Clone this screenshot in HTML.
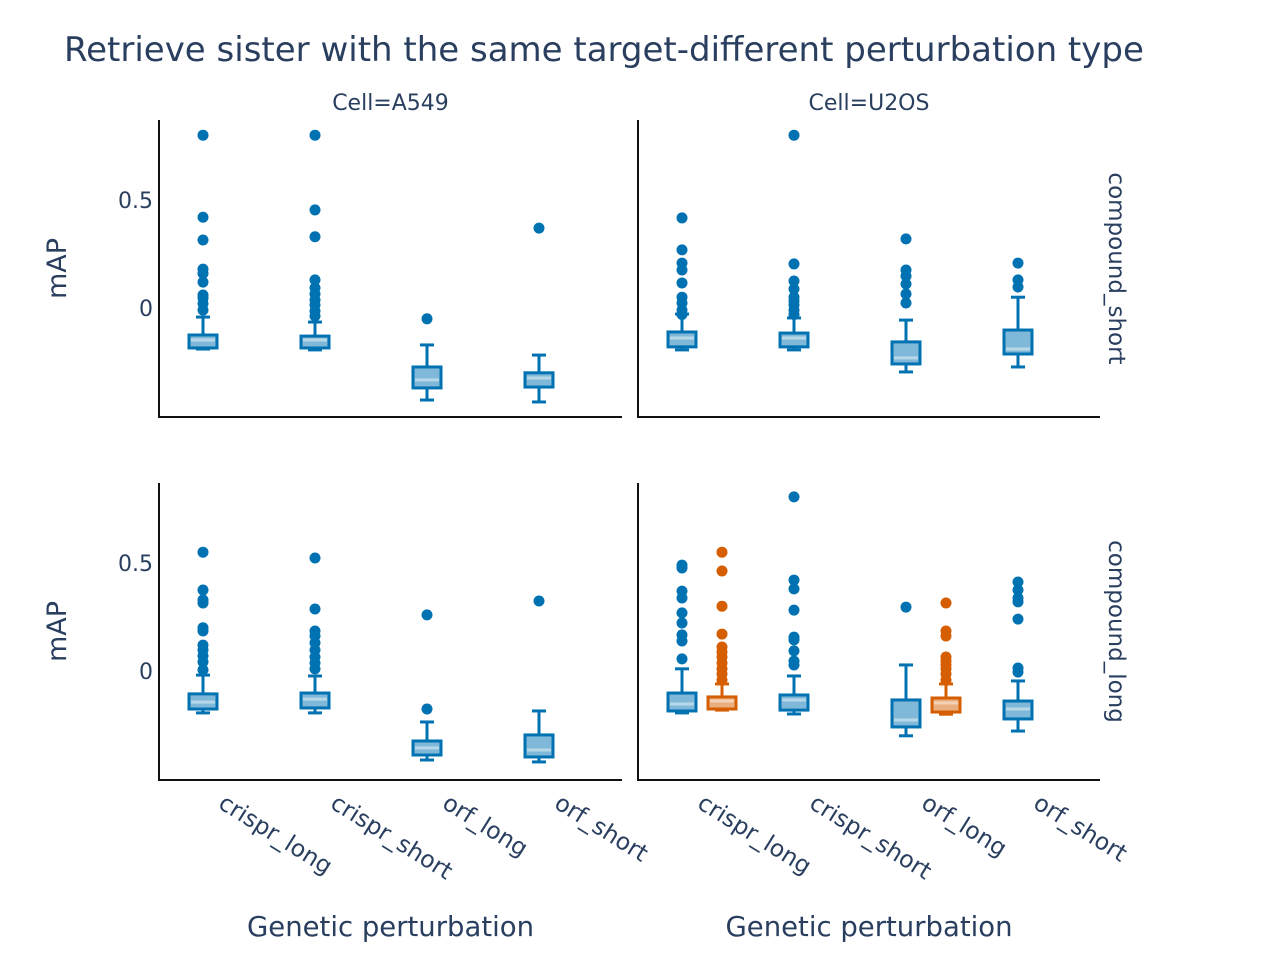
<!DOCTYPE html>
<html><head><meta charset="utf-8"><style>
body{margin:0;background:#fff;font-family:"DejaVu Sans",sans-serif}
svg text{font-family:"DejaVu Sans",sans-serif;fill:#2a3f5f}
</style></head><body>
<svg id="c" width="1280" height="960">
<text x="64" y="61" font-size="34">Retrieve sister with the same target-different perturbation type</text>
</svg>
<script>
const categories=["crispr_long","crispr_short","orf_long","orf_short"];
// each: [q1, median, q3, lower, upper]
const tlStats=[[-0.185,-0.148,-0.125,-0.19,-0.042],[-0.185,-0.148,-0.13,-0.194,-0.065],[-0.37,-0.333,-0.273,-0.426,-0.171],[-0.366,-0.324,-0.30,-0.435,-0.218]];
const tlOut=[[0.80,0.42,0.315,0.18,0.16,0.12,0.06,0.046,0.02,-0.01],[0.80,0.454,0.33,0.13,0.093,0.065,0.037,0.014,-0.014,-0.037],[-0.05],[0.37]];
const trStats=[[-0.18,-0.139,-0.111,-0.194,-0.028],[-0.18,-0.139,-0.116,-0.194,-0.046],[-0.259,-0.231,-0.157,-0.296,-0.056],[-0.213,-0.19,-0.102,-0.273,0.05]];
const trOut=[[0.417,0.269,0.208,0.176,0.116,0.05,0.023,-0.01,-0.03],[0.80,0.204,0.125,0.088,0.05,0.032,0.014,-0.01,-0.03],[0.32,0.176,0.148,0.111,0.065,0.023],[0.208,0.13,0.097]];
const blStats=[[-0.176,-0.144,-0.106,-0.194,-0.019],[-0.171,-0.13,-0.102,-0.194,-0.023],[-0.389,-0.356,-0.324,-0.412,-0.236],[-0.398,-0.366,-0.296,-0.421,-0.185]];
const blOut=[[0.55,0.375,0.329,0.315,0.2,0.185,0.12,0.097,0.07,0.042,0.005],[0.523,0.287,0.185,0.162,0.13,0.097,0.065,0.037,0.01],[0.26,-0.176],[0.324]];
const brStats=[[-0.185,-0.153,-0.102,-0.194,0.01],[-0.181,-0.134,-0.111,-0.199,-0.023],[-0.259,-0.227,-0.134,-0.3,0.028],[-0.222,-0.176,-0.139,-0.278,-0.046]];
const brOut=[[0.49,0.477,0.37,0.338,0.269,0.222,0.167,0.139,0.056],[0.806,0.421,0.38,0.282,0.157,0.144,0.093,0.046,0.028],[0.296],[0.412,0.375,0.338,0.32,0.24,0.014,-0.005]];
const brOrangeCats=[0,2];
const brOrangeStats=[[-0.176,-0.139,-0.12,-0.181,-0.06],[-0.19,-0.148,-0.125,-0.2,-0.06]];
const brOrangeOut=[[0.55,0.463,0.30,0.171,0.111,0.088,0.065,0.037,0.01,-0.014,-0.042],[0.315,0.185,0.162,0.065,0.046,0.028,0.01,-0.014,-0.042]];
const yTicks=[0,0.5];
const yTickLabels=["0","0.5"];

const svg=document.getElementById('c');
const NS="http://www.w3.org/2000/svg";
function mk(t,a,p){const e=document.createElementNS(NS,t);for(const k in a)e.setAttribute(k,a[k]);(p||svg).appendChild(e);return e;}
const panels=[
 {x0:159,x1:622,y0:120,y1:417,zero:308,stats:tlStats,out:tlOut,name:"a549-compound-short"},
 {x0:638,x1:1100,y0:120,y1:417,zero:308,stats:trStats,out:trOut,name:"u2os-compound-short"},
 {x0:159,x1:622,y0:483,y1:780,zero:671,stats:blStats,out:blOut,name:"a549-compound-long"},
 {x0:638,x1:1100,y0:483,y1:780,zero:671,stats:brStats,out:brOut,name:"u2os-compound-long"}];
const BLUE="#0072b2",ORANGE="#d55e00";
function drawBox(g,cx,st,outs,col,yf){
  const [q1,med,q3,lo,hi]=st,w=28,cw=14;
  mk('line',{x1:cx,x2:cx,y1:yf(hi),y2:yf(q3),stroke:col,'stroke-width':3},g);
  mk('line',{x1:cx,x2:cx,y1:yf(q1),y2:yf(lo),stroke:col,'stroke-width':3},g);
  mk('line',{x1:cx-cw/2,x2:cx+cw/2,y1:yf(hi),y2:yf(hi),stroke:col,'stroke-width':3},g);
  mk('line',{x1:cx-cw/2,x2:cx+cw/2,y1:yf(lo),y2:yf(lo),stroke:col,'stroke-width':3},g);
  const b=mk('rect',{x:cx-w/2,y:yf(q3),width:w,height:yf(q1)-yf(q3),fill:col,'fill-opacity':0.5,stroke:col,'stroke-width':3},g);
  
  
  mk('line',{x1:cx-w/2+2,x2:cx+w/2-2,y1:yf(med),y2:yf(med),stroke:"#fff",'stroke-opacity':0.45,'stroke-width':3},g);
  outs.forEach(v=>{const c=mk('circle',{cx:cx,cy:yf(v),r:5.5,fill:col},g);
    
    });
}
panels.forEach((p,pi)=>{
  const g=mk('g',{});
  
  
  const yf=v=>p.zero-v*216;
  mk('line',{x1:p.x0,x2:p.x0,y1:p.y0,y2:p.y1+1,stroke:"#111",'stroke-width':2},g);
  mk('line',{x1:p.x0,x2:p.x1,y1:p.y1,y2:p.y1,stroke:"#111",'stroke-width':2},g);
  const xf=i=>p.x0+44+i*112;
  p.stats.forEach((st,i)=>drawBox(g,xf(i),st,p.out[i],BLUE,yf));
  if(pi===3) brOrangeCats.forEach((ci,k)=>drawBox(g,xf(ci)+40,brOrangeStats[k],brOrangeOut[k],ORANGE,yf));
  if(pi%2===0){
    yTicks.forEach((t,i)=>{const tx=mk('text',{x:153,y:yf(t)+8,'font-size':22,'text-anchor':'end'},g);tx.textContent=yTickLabels[i];
      
      });
    const yt=mk('text',{x:66,y:(p.y0+p.y1)/2,'font-size':27,'text-anchor':'middle',transform:`rotate(-90 66 ${(p.y0+p.y1)/2})`},g);
    yt.textContent="mAP";
    
    
  } else {
    const cx=1109,cy=(p.y0+p.y1)/2;
    const rl=mk('text',{x:cx,y:cy,'font-size':23,'text-anchor':'middle',transform:`rotate(90 ${cx} ${cy})`},g);
    rl.textContent=pi===1?"compound_short":"compound_long";
    
    
  }
  if(pi<2){
    const fl=mk('text',{x:(p.x0+p.x1)/2,y:110,'font-size':22,'text-anchor':'middle'},g);
    fl.textContent=pi===0?"Cell=A549":"Cell=U2OS";
    
    
  } else {
    categories.forEach((c,i)=>{const x=xf(i)+14,y=807;
      const t=mk('text',{x:x,y:y,'font-size':23.5,transform:`rotate(32 ${x} ${y})`},g);t.textContent=c;
      
      });
    const xt=mk('text',{x:(p.x0+p.x1)/2,y:936,'font-size':27.5,'text-anchor':'middle'},g);
    xt.textContent="Genetic perturbation";
    
    
  }
});
</script>
</body></html>
